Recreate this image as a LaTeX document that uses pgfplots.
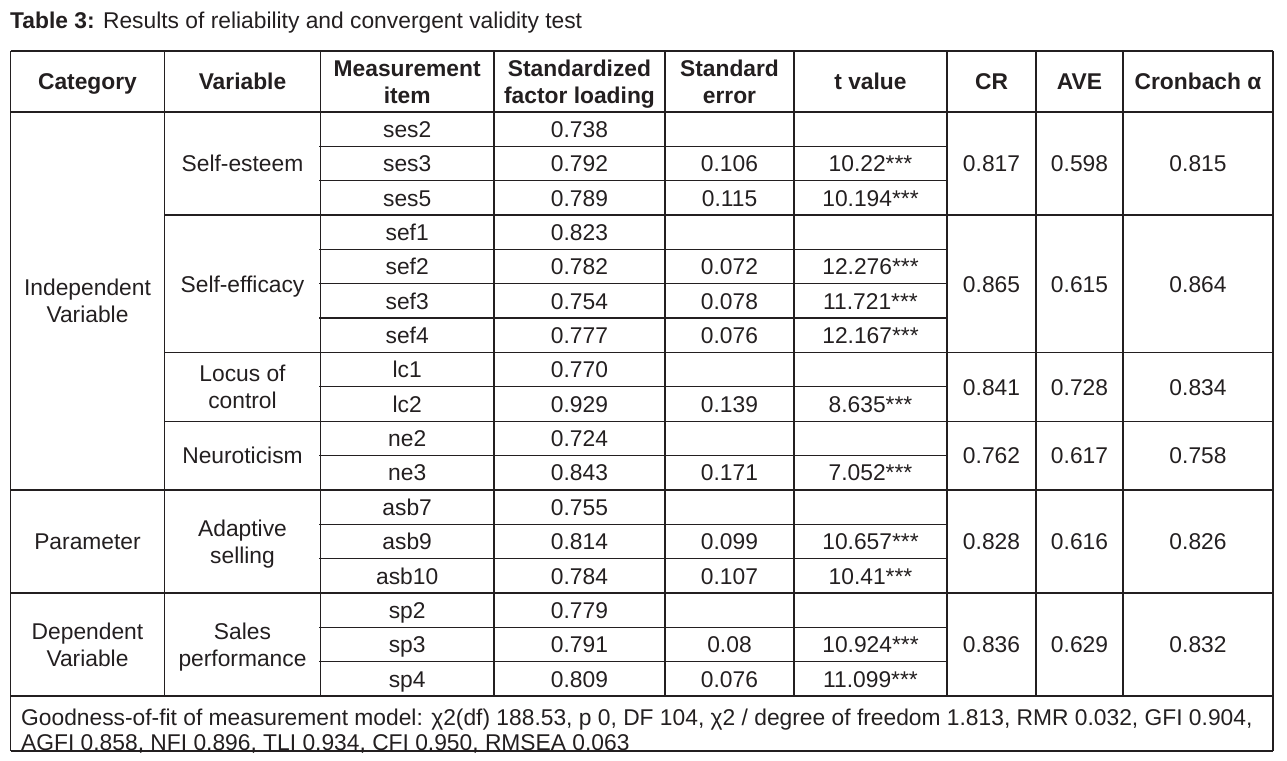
\documentclass[border=0pt]{standalone}
\usepackage{pgfplots}
\pgfplotsset{compat=1.18}
\usepackage{fontspec}
\setmainfont{Liberation Sans}
\definecolor{ink}{HTML}{231F20}
\newcommand{\cell}[3]{\node[cell] at (axis cs:#1,#2) {#3};}
\newcommand{\bcell}[3]{\node[cell,font=\fontsize{22.8}{27}\selectfont\bfseries] at (axis cs:#1,#2) {#3};}
\begin{document}
\begin{tikzpicture}[
  cell/.style={anchor=base, yshift=-8.2pt, inner sep=0pt, text=ink, font=\fontsize{22.8}{27}\selectfont},
  rule/.style={draw=ink, line width=1.3pt}]
\begin{axis}[hide axis, scale only axis, width=1287pt, height=760pt,
  xmin=0, xmax=1287, ymin=0, ymax=760, y dir=reverse, clip=false]
% bounding box
\path (axis cs:0,0) rectangle (axis cs:1287,760);
% title
\node[cell, anchor=base west] at (axis cs:10,20) {\textbf{Table 3:} Results of reliability and convergent validity test};
% full-width horizontal rules
\draw[rule] (axis cs:10.5,51) -- (axis cs:1273,51);
\draw[rule] (axis cs:10.5,112) -- (axis cs:1273,112);
\draw[rule] (axis cs:10.5,489.88) -- (axis cs:1273,489.88);
\draw[rule] (axis cs:10.5,592.94) -- (axis cs:1273,592.94);
\draw[rule] (axis cs:10.5,696) -- (axis cs:1273,696);
\draw[rule] (axis cs:10.5,751) -- (axis cs:1273,751);
% variable-group rules
\draw[rule] (axis cs:164.5,215.06) -- (axis cs:1273,215.06);
\draw[rule] (axis cs:164.5,352.47) -- (axis cs:1273,352.47);
\draw[rule] (axis cs:164.5,421.18) -- (axis cs:1273,421.18);
% item rules
\draw[rule] (axis cs:319,146.35) -- (axis cs:947,146.35);
\draw[rule] (axis cs:319,180.71) -- (axis cs:947,180.71);
\draw[rule] (axis cs:319,249.41) -- (axis cs:947,249.41);
\draw[rule] (axis cs:319,283.76) -- (axis cs:947,283.76);
\draw[rule] (axis cs:319,318.12) -- (axis cs:947,318.12);
\draw[rule] (axis cs:319,386.82) -- (axis cs:947,386.82);
\draw[rule] (axis cs:319,455.53) -- (axis cs:947,455.53);
\draw[rule] (axis cs:319,524.24) -- (axis cs:947,524.24);
\draw[rule] (axis cs:319,558.59) -- (axis cs:947,558.59);
\draw[rule] (axis cs:319,627.29) -- (axis cs:947,627.29);
\draw[rule] (axis cs:319,661.65) -- (axis cs:947,661.65);
% vertical rules
\draw[rule] (axis cs:10.5,51) -- (axis cs:10.5,751);
\draw[rule] (axis cs:1273,51) -- (axis cs:1273,751);
\draw[rule] (axis cs:164.5,51) -- (axis cs:164.5,696);
\draw[rule] (axis cs:320.5,51) -- (axis cs:320.5,696);
\draw[rule] (axis cs:494,51) -- (axis cs:494,696);
\draw[rule] (axis cs:665,51) -- (axis cs:665,696);
\draw[rule] (axis cs:794,51) -- (axis cs:794,696);
\draw[rule] (axis cs:947,51) -- (axis cs:947,696);
\draw[rule] (axis cs:1036,51) -- (axis cs:1036,696);
\draw[rule] (axis cs:1123,51) -- (axis cs:1123,696);
% header
\bcell{87.5}{81.5}{Category}
\bcell{242.5}{81.5}{Variable}
\bcell{407.2}{68}{Measurement}
\bcell{407.2}{95}{item}
\bcell{579.5}{68}{Standardized}
\bcell{579.5}{95}{factor loading}
\bcell{729.5}{68}{Standard}
\bcell{729.5}{95}{error}
\bcell{870.5}{81.5}{t value}
\bcell{991.5}{81.5}{CR}
\bcell{1079.5}{81.5}{AVE}
\bcell{1198}{81.5}{Cronbach α}
% category column
\cell{87.5}{287.4}{Independent}
\cell{87.5}{314.4}{Variable}
\cell{87.5}{541.4}{Parameter}
\cell{87.5}{631}{Dependent}
\cell{87.5}{658}{Variable}
% variable column
\cell{242.5}{163.5}{Self-esteem}
\cell{242.5}{283.8}{Self-efficacy}
\cell{242.5}{373.3}{Locus of}
\cell{242.5}{400.3}{control}
\cell{242.5}{455.5}{Neuroticism}
\cell{242.5}{527.9}{Adaptive}
\cell{242.5}{554.9}{selling}
\cell{242.5}{631}{Sales}
\cell{242.5}{658}{performance}
% item rows
\cell{407.2}{129.2}{ses2}  \cell{579.5}{129.2}{0.738}
\cell{407.2}{163.5}{ses3}  \cell{579.5}{163.5}{0.792} \cell{729.5}{163.5}{0.106} \cell{870.5}{163.5}{10.22***}
\cell{407.2}{197.9}{ses5}  \cell{579.5}{197.9}{0.789} \cell{729.5}{197.9}{0.115} \cell{870.5}{197.9}{10.194***}
\cell{407.2}{232.2}{sef1}  \cell{579.5}{232.2}{0.823}
\cell{407.2}{266.6}{sef2}  \cell{579.5}{266.6}{0.782} \cell{729.5}{266.6}{0.072} \cell{870.5}{266.6}{12.276***}
\cell{407.2}{300.9}{sef3}  \cell{579.5}{300.9}{0.754} \cell{729.5}{300.9}{0.078} \cell{870.5}{300.9}{11.721***}
\cell{407.2}{335.3}{sef4}  \cell{579.5}{335.3}{0.777} \cell{729.5}{335.3}{0.076} \cell{870.5}{335.3}{12.167***}
\cell{407.2}{369.6}{lc1}   \cell{579.5}{369.6}{0.770}
\cell{407.2}{404.0}{lc2}   \cell{579.5}{404.0}{0.929} \cell{729.5}{404.0}{0.139} \cell{870.5}{404.0}{8.635***}
\cell{407.2}{438.4}{ne2}   \cell{579.5}{438.4}{0.724}
\cell{407.2}{472.7}{ne3}   \cell{579.5}{472.7}{0.843} \cell{729.5}{472.7}{0.171} \cell{870.5}{472.7}{7.052***}
\cell{407.2}{507.1}{asb7}  \cell{579.5}{507.1}{0.755}
\cell{407.2}{541.4}{asb9}  \cell{579.5}{541.4}{0.814} \cell{729.5}{541.4}{0.099} \cell{870.5}{541.4}{10.657***}
\cell{407.2}{575.8}{asb10} \cell{579.5}{575.8}{0.784} \cell{729.5}{575.8}{0.107} \cell{870.5}{575.8}{10.41***}
\cell{407.2}{610.1}{sp2}   \cell{579.5}{610.1}{0.779}
\cell{407.2}{644.5}{sp3}   \cell{579.5}{644.5}{0.791} \cell{729.5}{644.5}{0.08}  \cell{870.5}{644.5}{10.924***}
\cell{407.2}{678.8}{sp4}   \cell{579.5}{678.8}{0.809} \cell{729.5}{678.8}{0.076} \cell{870.5}{678.8}{11.099***}
% CR / AVE / Cronbach
\cell{991.5}{163.5}{0.817} \cell{1079.5}{163.5}{0.598} \cell{1198}{163.5}{0.815}
\cell{991.5}{283.8}{0.865} \cell{1079.5}{283.8}{0.615} \cell{1198}{283.8}{0.864}
\cell{991.5}{386.8}{0.841} \cell{1079.5}{386.8}{0.728} \cell{1198}{386.8}{0.834}
\cell{991.5}{455.5}{0.762} \cell{1079.5}{455.5}{0.617} \cell{1198}{455.5}{0.758}
\cell{991.5}{541.4}{0.828} \cell{1079.5}{541.4}{0.616} \cell{1198}{541.4}{0.826}
\cell{991.5}{644.5}{0.836} \cell{1079.5}{644.5}{0.629} \cell{1198}{644.5}{0.832}
% footer
\node[cell, anchor=base west] at (axis cs:21,717) {Goodness-of-fit of measurement model: χ2(df) 188.53, p 0, DF 104, χ2 / degree of freedom 1.813, RMR 0.032, GFI 0.904,};
\node[cell, anchor=base west] at (axis cs:21,742) {AGFI 0.858, NFI 0.896, TLI 0.934, CFI 0.950, RMSEA 0.063};
\end{axis}
\end{tikzpicture}
\end{document}
